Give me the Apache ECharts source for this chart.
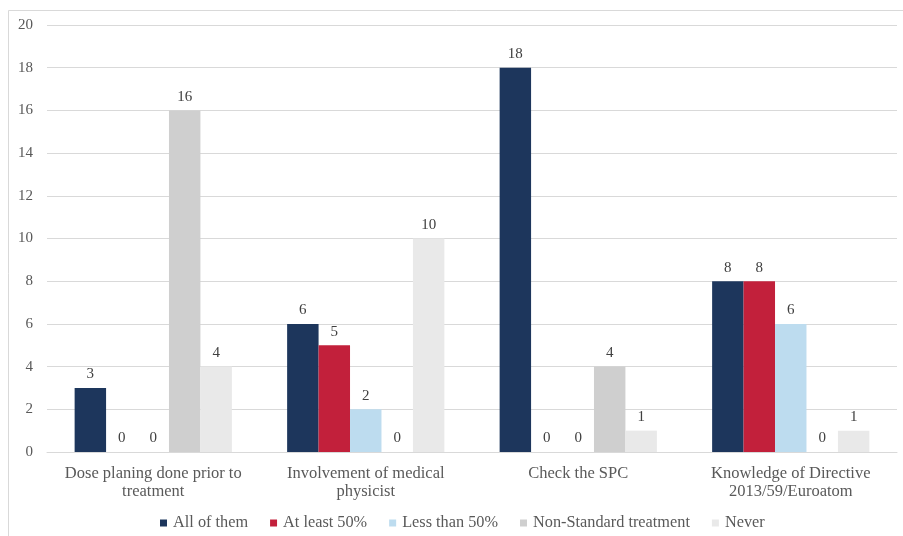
<!DOCTYPE html>
<html>
<head>
<meta charset="utf-8">
<script src="https://cdn.jsdelivr.net/npm/echarts@6/dist/echarts.min.js"></script>
<style>
  html, body { margin: 0; padding: 0; background: #fff; }
  #chart { width: 903px; height: 536px; }
</style>
</head>
<body>
<div id="chart"></div>
<script>
// Survey answers per question
const categories = [
  'Dose planing done prior to\ntreatment',
  'Involvement of medical\nphysicist',
  'Check the SPC',
  'Knowledge of Directive\n2013/59/Euroatom'
];
const seriesNames = ['All of them', 'At least 50%', 'Less than 50%', 'Non-Standard treatment', 'Never'];
const allOfThem   = [3, 6, 18, 8];
const atLeast50   = [0, 5, 0, 8];
const lessThan50  = [0, 2, 0, 6];
const nonStandard = [16, 0, 4, 0];
const never       = [4, 10, 1, 1];
const yTicks = { min: 0, max: 20, interval: 2 };

const colors = ['#1d365c', '#c2203b', '#bddcef', '#cfcfcf', '#e9e9e9'];
const values = [allOfThem, atLeast50, lessThan50, nonStandard, never];
const font = '"Liberation Serif", "Times New Roman", serif';

const chart = echarts.init(document.getElementById('chart'), null, { renderer: 'canvas' });
chart.setOption({
  animation: false,
  backgroundColor: '#fff',
  textStyle: { fontFamily: font },
  graphic: [{
    type: 'rect',
    shape: { x: 8.5, y: 10.5, width: 1000, height: 1000 },
    style: { fill: 'none', stroke: '#d9d9d9', lineWidth: 1 },
    silent: true
  }],
  grid: { left: 47, right: 6, top: 25, bottom: 84, containLabel: false },
  legend: {
    top: 515,
    left: 160,
    padding: 0,
    itemWidth: 7,
    itemHeight: 7,
    itemGap: 22,
    icon: 'rect',
    textStyle: { fontFamily: font, fontSize: 16.3, color: '#595959', padding: [0, 0, 0, 1] },
    data: seriesNames
  },
  xAxis: {
    type: 'category',
    data: categories,
    axisLine: { lineStyle: { color: '#d9d9d9', width: 1 } },
    axisTick: { show: false },
    axisLabel: { fontFamily: font, fontSize: 16.5, color: '#595959', lineHeight: 18, margin: 13, interval: 0 }
  },
  yAxis: {
    type: 'value',
    min: yTicks.min,
    max: yTicks.max,
    interval: yTicks.interval,
    axisLine: { show: false },
    axisTick: { show: false },
    splitLine: { lineStyle: { color: '#d9d9d9', width: 1 } },
    axisLabel: { fontFamily: font, fontSize: 15, color: '#595959', margin: 14 }
  },
  series: seriesNames.map((name, i) => ({
    name,
    type: 'bar',
    data: values[i],
    barGap: '0%',
    barCategoryGap: '26%',
    itemStyle: { color: colors[i] },
    label: {
      show: true,
      position: 'top',
      distance: 6,
      fontFamily: font,
      fontSize: 15,
      color: '#404040'
    }
  }))
});
</script>
</body>
</html>
